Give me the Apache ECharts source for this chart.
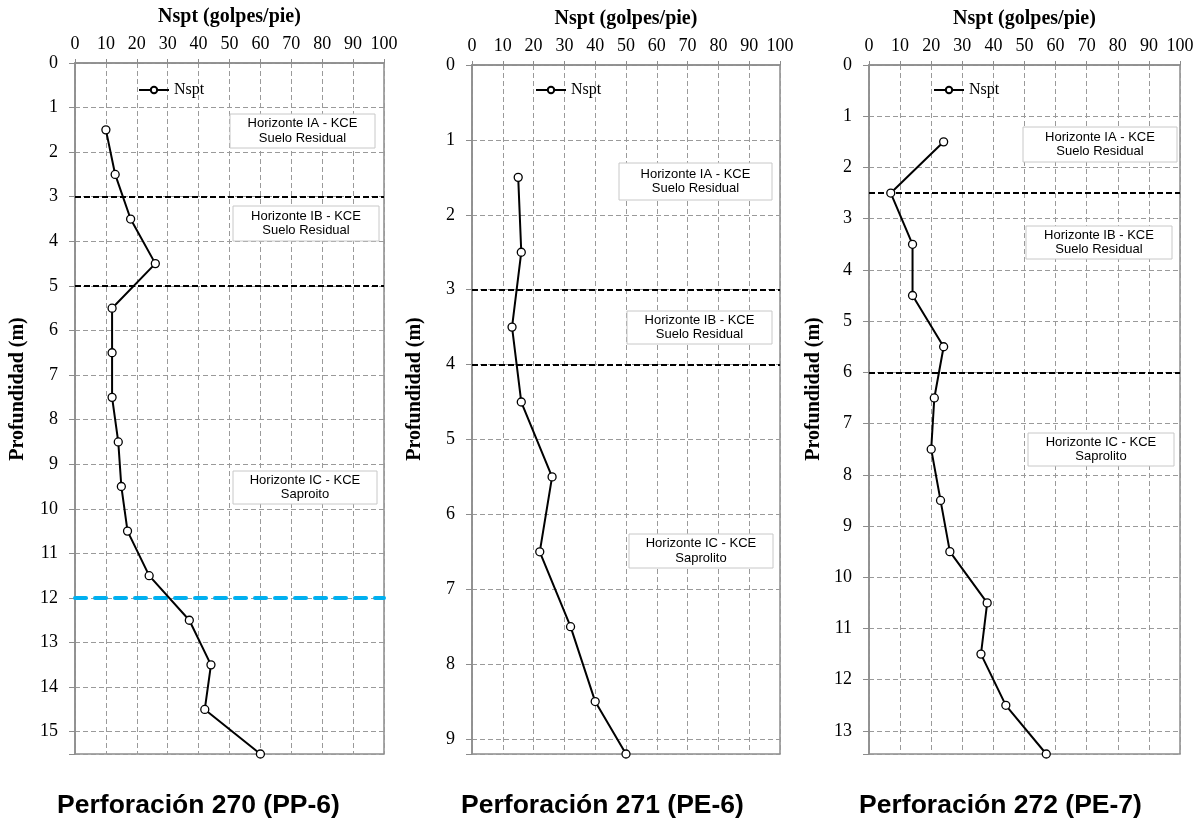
<!DOCTYPE html>
<html>
<head>
<meta charset="utf-8">
<title>Nspt vs Profundidad</title>
<script src="https://cdn.jsdelivr.net/npm/echarts@6/dist/echarts.min.js"></script>
<style>
  html, body { margin: 0; padding: 0; background: #fff; }
  #chart { width: 1203px; height: 821px; }
</style>
</head>
<body>
<div id="chart"></div>
<script>
// Depth (m) and SPT blow counts for each borehole
const depth270 = [1.5, 2.5, 3.5, 4.5, 5.5, 6.5, 7.5, 8.5, 9.5, 10.5, 11.5, 12.5, 13.5, 14.5, 15.5];
const nspt270  = [10, 13, 18, 26, 12, 12, 12, 14, 15, 17, 24, 37, 44, 42, 60];

const depth271 = [1.5, 2.5, 3.5, 4.5, 5.5, 6.5, 7.5, 8.5, 9.2];
const nspt271  = [15, 16, 13, 16, 26, 22, 32, 40, 50];

const depth272 = [1.5, 2.5, 3.5, 4.5, 5.5, 6.5, 7.5, 8.5, 9.5, 10.5, 11.5, 12.5, 13.45];
const nspt272  = [24, 7, 14, 14, 24, 21, 20, 23, 26, 38, 36, 44, 57];

// Maximum depth of each borehole (axis extent)
const maxDepth = [15.5, 9.2, 13.45];

// Horizon boundaries (m) and water table
const limits270 = [3, 5];
const limits271 = [3, 4];
const limits272 = [2.5, 6];
const waterTable270 = 12;

// Titles and labels
const xAxisTitle = 'Nspt (golpes/pie)';
const yAxisTitle = 'Profundidad (m)';
const seriesName = 'Nspt';
const boreholeTitles = ['Perforación 270 (PP-6)', 'Perforación 271 (PE-6)', 'Perforación 272 (PE-7)'];
const horizonText = [
  ['Horizonte IA - KCE\nSuelo Residual', 'Horizonte IB - KCE\nSuelo Residual', 'Horizonte IC - KCE\nSaproito'],
  ['Horizonte IA - KCE\nSuelo Residual', 'Horizonte IB - KCE\nSuelo Residual', 'Horizonte IC - KCE\nSaprolito'],
  ['Horizonte IA - KCE\nSuelo Residual', 'Horizonte IB - KCE\nSuelo Residual', 'Horizonte IC - KCE\nSaprolito']
];

const SERIF = '"Liberation Serif", "Times New Roman", serif';
const SANS = '"Liberation Sans", Arial, sans-serif';
const GRID_GRAY = '#9a9a9a';
const AXIS_GRAY = '#8c8c8c';

// Panel layout (pixels)
const panels = [
  { left: 75,  top: 63, width: 309, height: 691, legendLeft: 138, yNameX: 18,  titleX: 198.5 },
  { left: 472, top: 65, width: 308, height: 689, legendLeft: 535, yNameX: 415, titleX: 602.5 },
  { left: 869, top: 65, width: 311, height: 689, legendLeft: 933, yNameX: 814, titleX: 1000.5 }
];

// Annotation boxes per panel: [x, y, w, h]
const boxes = [
  [[230, 114, 145, 34], [233, 206, 146, 35], [233, 471, 144, 33]],
  [[619, 163, 153, 37], [627, 311, 145, 33], [629, 534, 144, 34]],
  [[1023, 127, 154, 35], [1026, 226, 146, 33], [1028, 433, 146, 33]]
];

const datasets = [
  { depth: depth270, nspt: nspt270, limits: limits270, water: waterTable270 },
  { depth: depth271, nspt: nspt271, limits: limits271, water: null },
  { depth: depth272, nspt: nspt272, limits: limits272, water: null }
];

const grids = panels.map(p => ({
  left: p.left, top: p.top, width: p.width, height: p.height,
  show: true, borderColor: AXIS_GRAY, borderWidth: 1.5, backgroundColor: '#fff'
}));

const xAxes = panels.map((p, i) => ({
  type: 'value', gridIndex: i, position: 'top',
  min: 0, max: 100, interval: 10,
  name: xAxisTitle, nameLocation: 'middle', nameGap: 36,
  nameTextStyle: { fontFamily: SERIF, fontSize: 20, fontWeight: 'bold', color: '#000' },
  axisLine: { show: true, lineStyle: { color: AXIS_GRAY, width: 1.5 } },
  axisTick: { show: true, length: 4, lineStyle: { color: AXIS_GRAY } },
  axisLabel: { fontFamily: SERIF, fontSize: 18, color: '#000', margin: 10 },
  splitLine: { show: true, lineStyle: { color: GRID_GRAY, type: [5, 3], width: 1 } }
}));

const yAxes = panels.map((p, i) => ({
  type: 'value', gridIndex: i, inverse: true,
  min: 0, max: maxDepth[i], interval: 1,
  axisLine: { show: true, lineStyle: { color: AXIS_GRAY, width: 1.5 } },
  axisTick: { show: true, length: 6, lineStyle: { color: AXIS_GRAY } },
  axisLabel: {
    fontFamily: SERIF, fontSize: 18, color: '#000', margin: 17,
    formatter: v => (Math.abs(v - Math.round(v)) < 1e-9 ? String(Math.round(v)) : '')
  },
  splitLine: { show: true, lineStyle: { color: GRID_GRAY, type: [5, 3], width: 1 } }
}));

const blackDash = { color: '#000', type: [6, 3], width: 2 };
const blueDash = { color: '#00b0f0', type: [11, 9], width: 4, cap: 'round' };

const series = datasets.map((d, i) => {
  const lines = d.limits.map(v => ({ yAxis: v, lineStyle: blackDash }));
  if (d.water !== null) lines.push({ yAxis: d.water, lineStyle: blueDash });
  return {
    name: seriesName, type: 'line', xAxisIndex: i, yAxisIndex: i,
    data: d.depth.map((z, k) => [d.nspt[k], z]),
    symbol: 'circle', symbolSize: 8, showAllSymbol: true,
    itemStyle: { color: '#fff', borderColor: '#000', borderWidth: 1.3 },
    lineStyle: { color: '#000', width: 2 },
    z: 3,
    markLine: {
      silent: true, symbol: ['none', 'none'], label: { show: false },
      animation: false, data: lines, z: 2
    }
  };
});

const legends = panels.map(p => ({
  data: [seriesName], left: p.legendLeft, top: 82, padding: 0,
  itemWidth: 30, itemHeight: 8, itemGap: 6, selectedMode: false,
  textStyle: { fontFamily: SERIF, fontSize: 16, color: '#000' }
}));

const graphics = [];
boxes.forEach((set, i) => {
  set.forEach((b, j) => {
    graphics.push({
      type: 'rect', shape: { x: b[0], y: b[1], width: b[2], height: b[3] },
      style: { fill: '#fff', stroke: '#c8c8c8', lineWidth: 1 }, z: 50
    });
    graphics.push({
      type: 'text', x: b[0] + b[2] / 2, y: b[1] + b[3] / 2, z: 51,
      style: {
        text: horizonText[i][j], fill: '#000', align: 'center', verticalAlign: 'middle',
        fontFamily: SANS, fontSize: 13, lineHeight: 14.5
      }
    });
  });
});
panels.forEach((p, i) => {
  graphics.push({
    type: 'text', x: p.yNameX, y: 389, rotation: Math.PI / 2, z: 51,
    style: {
      text: yAxisTitle, fill: '#000', align: 'center', verticalAlign: 'middle',
      fontFamily: SERIF, fontSize: 20, fontWeight: 'bold'
    }
  });
  graphics.push({
    type: 'text', x: p.titleX, y: 806, z: 51,
    style: {
      text: boreholeTitles[i], fill: '#000', align: 'center', verticalAlign: 'middle',
      fontFamily: SANS, fontSize: 26.5, fontWeight: 'bold'
    }
  });
});

const chart = echarts.init(document.getElementById('chart'), null, { renderer: 'canvas' });
chart.setOption({
  animation: false,
  backgroundColor: '#fff',
  grid: grids,
  xAxis: xAxes,
  yAxis: yAxes,
  legend: legends,
  series: series,
  graphic: graphics
});
</script>
</body>
</html>
